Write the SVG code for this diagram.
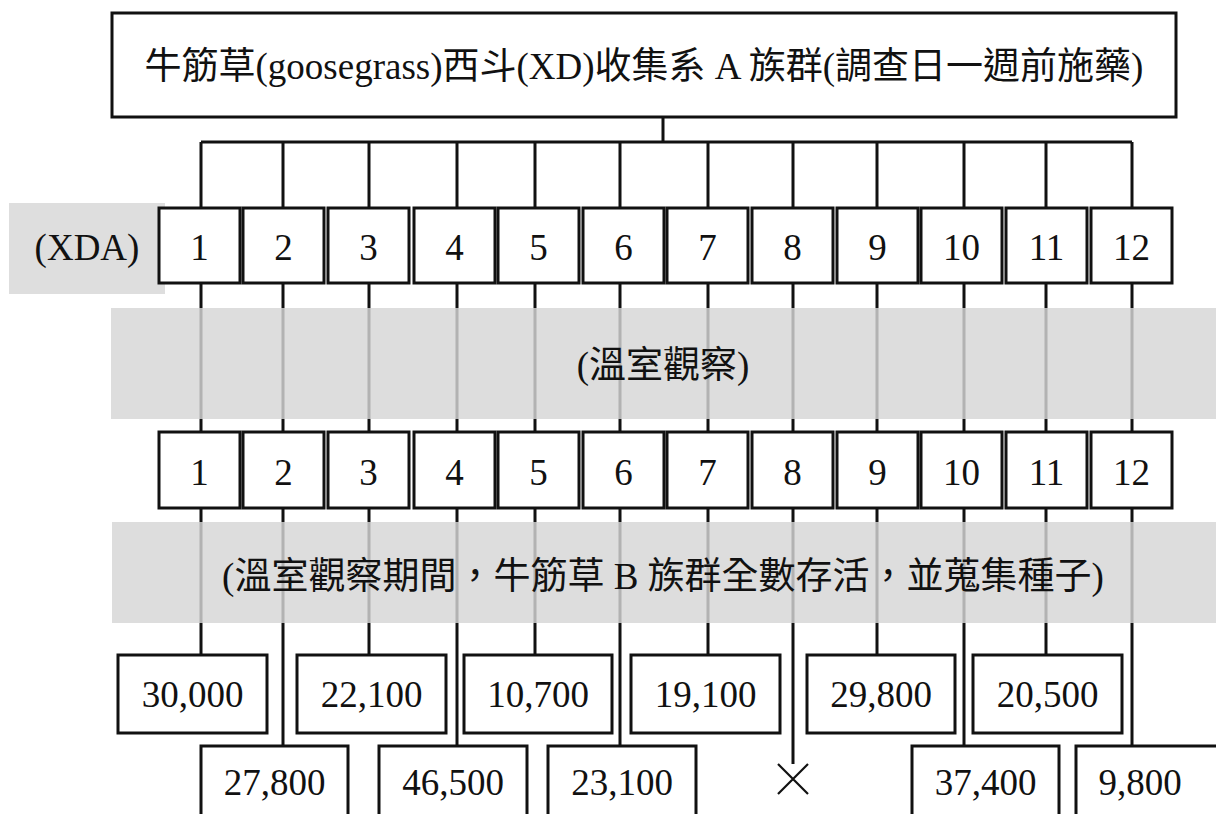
<svg xmlns="http://www.w3.org/2000/svg" width="1216" height="814" viewBox="0 0 1216 814">
  <style>
    .box { fill: #ffffff; stroke: #111111; stroke-width: 3; }
    .line { stroke: #111111; stroke-width: 3; fill: none; }
    .band { fill: #d6d6d6; fill-opacity: 0.82; }
    .txt { font-family: "Liberation Serif", "Noto Sans CJK TC", serif; font-size: 37px; fill: #111111; text-anchor: middle; }
  </style>

  <rect width="1216" height="814" fill="#ffffff"/>

  <!-- connectors: tree from root, column links, and links to seed counts -->
  <g id="connectors" class="line">
    <path d="M663 117 V142 M201 142 H1132"/>
    <path d="M201 142 V208 M283 142 V208 M369 142 V208 M457 142 V208 M535 142 V208 M620 142 V208 M708 142 V208 M793 142 V208 M877 142 V208 M964 142 V208 M1046 142 V208 M1132 142 V208"/>
    <path d="M201 283 V432 M283 283 V432 M369 283 V432 M457 283 V432 M535 283 V432 M620 283 V432 M708 283 V432 M793 283 V432 M877 283 V432 M964 283 V432 M1046 283 V432 M1132 283 V432"/>
    <path d="M201 508 V655 M369 508 V655 M535 508 V655 M708 508 V655 M877 508 V655 M1046 508 V655"/>
    <path d="M283 508 V746 M457 508 V746 M620 508 V746 M964 508 V746 M1132 508 V746 M793 508 V764"/>
    <path d="M778 764 L808 794 M808 764 L778 794" stroke-width="2.2"/>
  </g>

  <!-- shaded stage bands, laid over the column links -->
  <g id="band-xda">
    <rect x="9" y="203" width="156" height="91" fill="#dedede"/>
    <text class="txt" x="87" y="260">(XDA)</text>
  </g>
  <g id="band-greenhouse">
    <rect class="band" x="111" y="308" width="1105" height="111"/>
    <text class="txt" x="663" y="378">(溫室觀察)</text>
  </g>
  <g id="band-survival">
    <rect class="band" x="112" y="522" width="1104" height="101"/>
    <text class="txt" x="663" y="589">(溫室觀察期間，牛筋草 B 族群全數存活，並蒐集種子)</text>
  </g>

  <!-- root population -->
  <g id="root">
    <rect class="box" x="112" y="13" width="1064" height="104"/>
    <text class="txt" x="644" y="79">牛筋草(goosegrass)西斗(XD)收集系 A 族群(調查日一週前施藥)</text>
  </g>

  <!-- XDA lines, first row -->
  <g id="xda-row">
    <g id="xda-1"><rect class="box" x="159" y="208" width="81" height="75"/><text class="txt" x="199.5" y="260">1</text></g>
    <g id="xda-2"><rect class="box" x="243" y="208" width="81" height="75"/><text class="txt" x="283.5" y="260">2</text></g>
    <g id="xda-3"><rect class="box" x="328" y="208" width="81" height="75"/><text class="txt" x="368.5" y="260">3</text></g>
    <g id="xda-4"><rect class="box" x="414" y="208" width="81" height="75"/><text class="txt" x="454.5" y="260">4</text></g>
    <g id="xda-5"><rect class="box" x="498" y="208" width="81" height="75"/><text class="txt" x="538.5" y="260">5</text></g>
    <g id="xda-6"><rect class="box" x="583" y="208" width="81" height="75"/><text class="txt" x="623.5" y="260">6</text></g>
    <g id="xda-7"><rect class="box" x="667" y="208" width="81" height="75"/><text class="txt" x="707.5" y="260">7</text></g>
    <g id="xda-8"><rect class="box" x="752" y="208" width="81" height="75"/><text class="txt" x="792.5" y="260">8</text></g>
    <g id="xda-9"><rect class="box" x="837" y="208" width="81" height="75"/><text class="txt" x="877.5" y="260">9</text></g>
    <g id="xda-10"><rect class="box" x="921" y="208" width="81" height="75"/><text class="txt" x="961.5" y="260">10</text></g>
    <g id="xda-11"><rect class="box" x="1006" y="208" width="81" height="75"/><text class="txt" x="1046.5" y="260">11</text></g>
    <g id="xda-12"><rect class="box" x="1091" y="208" width="81" height="75"/><text class="txt" x="1131.5" y="260">12</text></g>
  </g>

  <!-- greenhouse lines, second row -->
  <g id="gh-row">
    <g id="gh-1"><rect class="box" x="159" y="432" width="81" height="76"/><text class="txt" x="199.5" y="485">1</text></g>
    <g id="gh-2"><rect class="box" x="243" y="432" width="81" height="76"/><text class="txt" x="283.5" y="485">2</text></g>
    <g id="gh-3"><rect class="box" x="328" y="432" width="81" height="76"/><text class="txt" x="368.5" y="485">3</text></g>
    <g id="gh-4"><rect class="box" x="414" y="432" width="81" height="76"/><text class="txt" x="454.5" y="485">4</text></g>
    <g id="gh-5"><rect class="box" x="498" y="432" width="81" height="76"/><text class="txt" x="538.5" y="485">5</text></g>
    <g id="gh-6"><rect class="box" x="583" y="432" width="81" height="76"/><text class="txt" x="623.5" y="485">6</text></g>
    <g id="gh-7"><rect class="box" x="667" y="432" width="81" height="76"/><text class="txt" x="707.5" y="485">7</text></g>
    <g id="gh-8"><rect class="box" x="752" y="432" width="81" height="76"/><text class="txt" x="792.5" y="485">8</text></g>
    <g id="gh-9"><rect class="box" x="837" y="432" width="81" height="76"/><text class="txt" x="877.5" y="485">9</text></g>
    <g id="gh-10"><rect class="box" x="921" y="432" width="81" height="76"/><text class="txt" x="961.5" y="485">10</text></g>
    <g id="gh-11"><rect class="box" x="1006" y="432" width="81" height="76"/><text class="txt" x="1046.5" y="485">11</text></g>
    <g id="gh-12"><rect class="box" x="1091" y="432" width="81" height="76"/><text class="txt" x="1131.5" y="485">12</text></g>
  </g>

  <!-- seed counts, staggered in two rows -->
  <g id="seeds">
    <g id="seed-1"><rect class="box" x="118" y="655" width="149" height="78"/><text class="txt" x="192.5" y="707">30,000</text></g>
    <g id="seed-3"><rect class="box" x="297" y="655" width="149" height="78"/><text class="txt" x="371.5" y="707">22,100</text></g>
    <g id="seed-5"><rect class="box" x="464" y="655" width="148" height="78"/><text class="txt" x="538" y="707">10,700</text></g>
    <g id="seed-7"><rect class="box" x="631" y="655" width="149" height="78"/><text class="txt" x="705.5" y="707">19,100</text></g>
    <g id="seed-9"><rect class="box" x="807" y="655" width="148" height="78"/><text class="txt" x="881" y="707">29,800</text></g>
    <g id="seed-11"><rect class="box" x="973" y="655" width="149" height="78"/><text class="txt" x="1047.5" y="707">20,500</text></g>

    <g id="seed-2"><rect class="box" x="201" y="746" width="147" height="90"/><text class="txt" x="274.5" y="795">27,800</text></g>
    <g id="seed-4"><rect class="box" x="379" y="746" width="148" height="90"/><text class="txt" x="453" y="795">46,500</text></g>
    <g id="seed-6"><rect class="box" x="548" y="746" width="148" height="90"/><text class="txt" x="622" y="795">23,100</text></g>
    <g id="seed-10"><rect class="box" x="912" y="746" width="147" height="90"/><text class="txt" x="985.5" y="795">37,400</text></g>
    <g id="seed-12"><rect class="box" x="1076" y="746" width="150" height="90"/><text class="txt" x="1140" y="795">9,800</text></g>
  </g>
</svg>
